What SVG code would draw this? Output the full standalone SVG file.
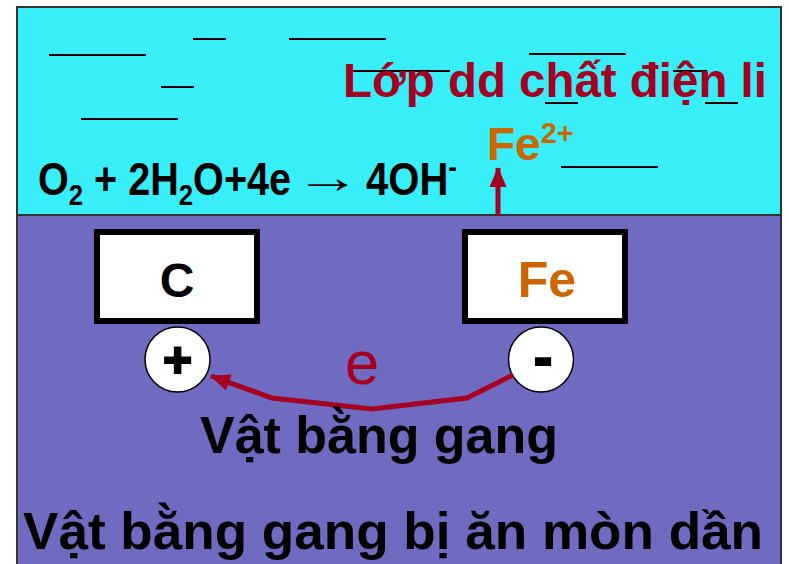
<svg xmlns="http://www.w3.org/2000/svg" width="789" height="564" viewBox="0 0 789 564">
<style>
.b{font-family:"Liberation Sans",Arial,sans-serif;font-weight:bold}
.dash{stroke:#000;stroke-width:2;fill:none}
.box{fill:#fff;stroke:#000;stroke-width:6}
.pole{fill:#fff;stroke:#000;stroke-width:1.5}
.sign{stroke:#000;stroke-width:2}
.red{fill:#A50021}
.org{fill:#CC6600}
</style>
<defs>
<marker id="ah" markerWidth="4" markerHeight="3.4" refX="3.8" refY="1.7" orient="auto" markerUnits="strokeWidth">
<path d="M0,0 L4,1.7 L0,3.4 z" fill="#A50021"/>
</marker>
</defs>
<rect width="789" height="564" fill="#fff"/>
<g id="electrolyte">
<rect x="17" y="7" width="764" height="208" fill="#38EEF8" stroke="#333" stroke-width="2"/>
<g class="dash">
<line x1="193" y1="39" x2="226" y2="39"/>
<line x1="289" y1="39" x2="386" y2="39"/>
<line x1="49" y1="55" x2="146" y2="55"/>
<line x1="529" y1="54" x2="626" y2="54"/>
<line x1="352" y1="71" x2="450" y2="71"/>
<line x1="673" y1="71" x2="707" y2="71"/>
<line x1="161" y1="87" x2="194" y2="87"/>
<line x1="545" y1="103" x2="578" y2="103"/>
<line x1="705" y1="103" x2="738" y2="103"/>
<line x1="81" y1="119" x2="178" y2="119"/>
<line x1="561" y1="167" x2="658" y2="167"/>
</g>
<text class="b red" x="343" y="97" font-size="48" textLength="424" lengthAdjust="spacingAndGlyphs">Lớp dd chất điện li</text>
<text class="b" transform="translate(38,195) scale(0.86,1)" font-size="46" fill="#000">O<tspan font-size="30" dy="10">2</tspan><tspan dy="-10"> + 2H</tspan><tspan font-size="30" dy="10">2</tspan><tspan dy="-10">O+4e</tspan></text>
<text x="295" y="193" font-family="Liberation Sans, Arial, sans-serif" font-size="46" textLength="66" lengthAdjust="spacingAndGlyphs">→</text>
<text class="b" transform="translate(366,195) scale(0.87,1)" font-size="46">4OH<tspan font-size="30" dy="-18">-</tspan></text>
<text class="b org" x="487" y="160" font-size="46">Fe<tspan font-size="29" dy="-17">2+</tspan></text>
</g>
<g id="iron-object">
<rect x="17" y="215" width="764" height="352" fill="#6E6BC0" stroke="#333" stroke-width="2"/>
</g>
<g id="node-C">
<rect class="box" x="97" y="232" width="160" height="89"/>
<text class="b" x="177" y="297" font-size="48" text-anchor="middle">C</text>
</g>
<g id="node-Fe">
<rect class="box" x="465" y="232" width="160" height="89"/>
<text class="b org" x="547" y="297" font-size="50" text-anchor="middle">Fe</text>
</g>
<g id="pole-plus">
<circle class="pole" cx="177.5" cy="359.5" r="32.5"/>
<text class="b sign" x="177.5" y="377" font-size="50" text-anchor="middle">+</text>
</g>
<g id="pole-minus">
<circle class="pole" cx="541" cy="359.5" r="32.5"/>
<text class="b sign" x="543" y="376" font-size="56" text-anchor="middle">-</text>
</g>
<g id="connectors">
<line x1="498" y1="215" x2="498" y2="168" stroke="#A50021" stroke-width="5" marker-end="url(#ah)"/>
<polyline points="513,375 467,398 372,409 272,398 211,376" fill="none" stroke="#A50021" stroke-width="5" stroke-linejoin="miter" marker-end="url(#ah)"/>
</g>
<text x="362" y="384" font-family="Liberation Sans, Arial, sans-serif" font-size="62" text-anchor="middle" class="red">e</text>
<text class="b" x="200" y="453" font-size="52" textLength="358" lengthAdjust="spacingAndGlyphs">Vật bằng gang</text>
<text class="b" x="23" y="549" font-size="52" textLength="740" lengthAdjust="spacingAndGlyphs">Vật bằng gang bị ăn mòn dần</text>
</svg>
